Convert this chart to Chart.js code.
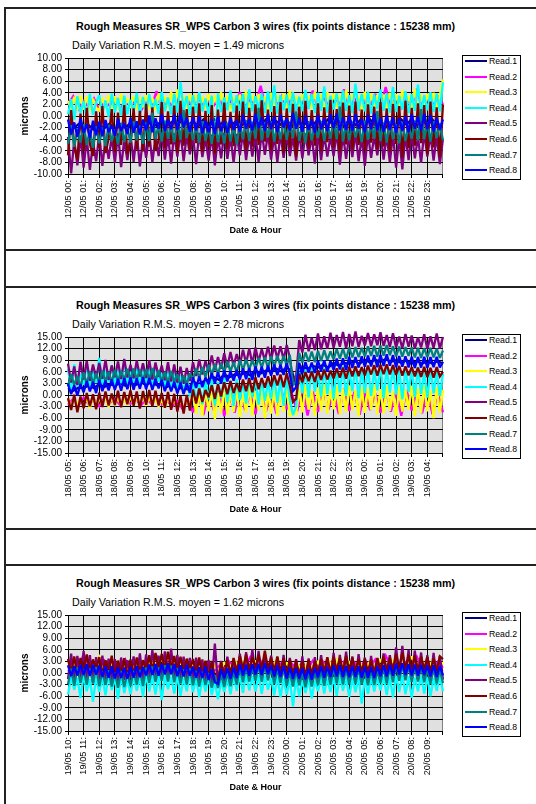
<!DOCTYPE html>
<html><head><meta charset="utf-8">
<script src="https://cdn.jsdelivr.net/npm/chart.js@4.4.1/dist/chart.umd.min.js"></script>
<style>
html,body{margin:0;padding:0;background:#fff;width:536px;height:804px;overflow:hidden;font-family:"Liberation Sans",Arial,sans-serif;color:#000;}
.hl{position:absolute;left:4px;width:540px;height:0;border-top:2px solid #222;}
.vl{position:absolute;left:4px;top:8px;width:0;height:800px;border-left:2px solid #222;}
.ttl{position:absolute;left:0;width:531px;text-align:center;font-weight:bold;font-size:10.7px;line-height:12px;white-space:nowrap;}
.sub{position:absolute;left:72px;font-size:10.7px;line-height:12px;white-space:nowrap;}
.lg{position:absolute;left:462px;width:57px;border:1px solid #000;background:#fff;}
.it{position:absolute;left:0;width:57px;height:12px;}
.it i{position:absolute;left:2px;top:5px;width:22px;height:2px;}
.it span{position:absolute;left:26px;top:0;font-size:8.7px;line-height:12px;}
canvas{position:absolute;left:6px;}
</style>
</head><body>
<div class="vl"></div>
<script>
// ---------- text / tick labels ----------
const chartTitle = 'Rough Measures SR_WPS Carbon 3 wires (fix points distance : 15238 mm)';
const subtitles = [
  'Daily Variation R.M.S. moyen = 1.49 microns',
  'Daily Variation R.M.S. moyen = 2.78 microns',
  'Daily Variation R.M.S. moyen = 1.62 microns'
];
const seriesNames = ['Read.1','Read.2','Read.3','Read.4','Read.5','Read.6','Read.7','Read.8'];
const seriesColors = ['#000080','#ff00ff','#ffff00','#00ffff','#800080','#800000','#008080','#0000ff'];
const yAxisTitle = 'microns';
const xAxisTitle = 'Date & Hour';

const hours1 = ['12/05 00:','12/05 01:','12/05 02:','12/05 03:','12/05 04:','12/05 05:','12/05 06:','12/05 07:','12/05 08:','12/05 09:','12/05 10:','12/05 11:','12/05 12:','12/05 13:','12/05 14:','12/05 15:','12/05 16:','12/05 17:','12/05 18:','12/05 19:','12/05 20:','12/05 21:','12/05 22:','12/05 23:'];
const hours2 = ['18/05 05:','18/05 06:','18/05 07:','18/05 08:','18/05 09:','18/05 10:','18/05 11:','18/05 12:','18/05 13:','18/05 14:','18/05 15:','18/05 16:','18/05 17:','18/05 18:','18/05 19:','18/05 20:','18/05 21:','18/05 22:','18/05 23:','19/05 00:','19/05 01:','19/05 02:','19/05 03:','19/05 04:'];
const hours3 = ['19/05 10:','19/05 11:','19/05 12:','19/05 13:','19/05 14:','19/05 15:','19/05 16:','19/05 17:','19/05 18:','19/05 19:','19/05 20:','19/05 21:','19/05 22:','19/05 23:','20/05 00:','20/05 01:','20/05 02:','20/05 03:','20/05 04:','20/05 05:','20/05 06:','20/05 07:','20/05 08:','20/05 09:'];

// ---------- chart 1 values (microns) ----------
const c1_read1 = [-1.8,-2.2,-1.4,-2.0,-1.6,-2.4,-1.5,-2.1,-1.3,-2.3,-1.7,-2.0,-1.2,-1.9,-1.0,-1.8,-0.9,-1.7,-0.8,-1.6,-1.0,-1.5,-0.7,-1.6,-0.9,-1.8,-0.6,-1.5,-0.5,-1.7,-0.8,-1.9,-1.1,-2.0,-1.0,-1.9,-0.8,-1.6,-0.6,-1.7,-0.9,-1.6,-0.7,-1.8,-0.6,-1.7,-1.0,-1.6,-0.6,-1.5,-0.5,-1.8,-0.8,-1.9,-0.6,-1.7,-0.8,-1.7,-0.6,-1.6,-0.9,-2.0,-1.0,-1.8,-0.6,-1.5,-0.5,-1.7,-0.7,-1.6,-0.6,-1.8,-1.2];
const c1_read2 = [2.0,3.4,1.2,2.6,1.5,3.0,1.0,2.4,1.8,3.2,1.1,2.7,1.6,3.1,0.9,2.5,1.4,4.3,1.2,2.8,1.7,3.3,1.0,2.9,1.5,3.6,1.3,2.6,1.8,3.2,1.1,2.7,1.6,4.1,1.4,3.0,1.9,5.2,1.2,2.8,1.5,3.4,1.7,3.1,1.3,2.9,1.6,4.4,1.1,3.2,1.8,3.5,1.4,4.6,1.5,3.0,1.2,2.7,1.9,3.8,1.3,5.0,1.6,3.3,1.4,3.1,1.7,4.7,1.2,3.0,1.5,3.4,2.0];
const c1_read3 = [2.6,1.2,3.3,1.0,3.5,1.1,3.4,0.9,3.0,1.4,1.0,3.2,1.3,3.6,0.8,3.4,1.2,3.8,1.0,3.1,1.4,3.5,1.1,3.3,1.5,3.6,1.2,3.1,1.0,3.9,1.1,3.4,1.3,4.2,1.0,4.6,1.4,3.5,1.2,3.8,1.3,3.7,1.0,3.4,1.2,3.9,1.1,3.6,1.4,4.1,1.2,3.5,1.0,3.3,1.4,3.7,1.3,4.3,1.1,3.6,1.5,3.8,1.2,3.4,1.0,4.0,1.2,3.6,1.4,3.9,1.1,4.4,1.3,3.5,1.6,3.8,1.0,3.5,1.3,4.2,1.2,3.7,1.0,4.1,1.3,3.9,1.4,3.6,1.1,4.5,1.3,3.8,1.2,3.5,1.0,4.2,1.1,3.9,1.3,3.6,1.2,3.7,1.4,4.0,1.1,3.8,1.2,4.4,1.0,3.5,1.3,4.6,1.1,3.7,1.4,3.9,1.2,4.0,1.3,3.6,6.3];
const c1_read4 = [0.3,2.9,-0.6,3.4,0.5,2.6,-0.3,3.8,0.2,2.4,3.6,0.4,2.7,-0.2,3.9,0.6,3.1,0.1,3.5,0.3,2.8,0.7,4.0,0.2,3.3,0.5,3.7,0.9,2.9,0.4,4.2,0.8,3.2,0.3,3.8,0.6,5.9,0.9,3.4,0.2,3.6,0.5,4.1,0.8,3.0,0.4,3.5,-6.0,3.9,0.7,3.2,1.0,4.4,0.6,3.6,0.9,3.8,0.3,4.6,0.8,3.4,1.1,3.9,0.5,4.3,0.7,5.3,0.4,3.6,1.0,3.7,0.6,4.1,0.9,3.3,0.8,4.5,1.2,3.8,0.5,4.0,0.9,5.1,0.6,3.5,1.1,3.9,0.7,4.4,0.9,3.6,0.5,5.6,1.0,3.8,0.8,4.2,0.4,3.7,1.2,4.6,0.9,3.9,0.6,5.0,0.7,3.5,1.1,4.3,0.5,3.8,0.9,5.4,0.6,3.6,1.0,4.1,0.7,3.9,0.8,5.8];
const c1_read5 = [-3.6,-9.9,-4.2,-8.5,-3.4,-8.9,-3.8,-9.3,-4.5,-7.8,-3.2,-8.6,-4.0,-7.4,-3.5,-8.1,-3.0,-8.8,-4.1,-7.6,-3.3,-7.9,-2.9,-8.7,-3.7,-7.2,-3.1,-8.0,-3.6,-6.9,-2.8,-7.5,-3.4,-8.2,-3.0,-7.0,-2.7,-7.8,-3.3,-6.6,-3.5,-8.3,-2.9,-7.1,-3.8,-7.7,-3.2,-8.5,-3.6,-7.3,-2.9,-7.4,-3.5,-8.1,-3.1,-6.8,-2.8,-7.6,-3.2,-7.0,-3.4,-7.9,-2.7,-6.7,-3.0,-7.5,-3.3,-8.0,-2.9,-7.2,-3.1,-6.9,-3.6,-7.7,-2.8,-7.3,-3.0,-6.8,-3.4,-8.2,-2.9,-7.6,-3.2,-7.0,-3.5,-6.9,-2.7,-8.4,-3.1,-7.4,-3.3,-7.1,-2.8,-7.8,-3.6,-8.6,-3.0,-7.2,-3.4,-6.8,-2.9,-7.5,-3.3,-8.0,-3.1,-8.9,-3.5,-9.2,-3.2,-7.6,-3.0,-7.3,-3.6,-8.1,-2.8,-7.0,-3.2,-7.7,-3.4,-8.3,-3.9];
const c1_read6 = [-6.8,1.0,-5.2,-7.6,0.4,-6.0,1.4,-4.8,-6.9,0.8,-5.5,1.7,-6.4,-3.9,1.2,-6.2,0.6,-5.0,1.9,-6.6,-4.6,1.3,-5.8,0.9,-6.1,2.1,-5.3,1.5,-6.0,-4.2,2.4,-5.6,0.8,-4.9,1.8,-6.3,2.6,-5.1,1.2,-5.8,1.6,-4.7,2.2,-6.2,0.9,-5.4,1.9,-6.5,1.1,-4.9,2.3,-5.7,0.7,-5.2,1.8,-4.6,2.5,-6.0,1.4,-5.3,2.0,-5.0,2.7,-4.4,1.1,-5.9,1.7,-4.8,2.4,-6.4,1.3,-5.5,2.1,-7.0,1.6,-4.7,2.6,-5.6,1.0,-5.1,2.2,-6.1,1.5,-4.5,2.8,-5.4,1.2,-6.3,2.3,-4.9,1.8,-5.8,2.5,-5.0,1.1,-6.0,2.0,-4.6,1.6,-5.7,2.4,-5.3,1.3,-6.2,2.1,-4.8,1.7,-7.2,2.6,-5.5,1.4,-5.1,2.2,-4.7,1.9,-6.6,2.5,-5.4,1.5,-7.1,2.0];
const c1_read7 = [-4.8,-1.6,-5.3,-2.2,-4.6,-1.4,-5.0,-2.5,-5.5,-1.8,-4.7,-2.0,-5.2,-1.5,-4.4,-2.3,-4.9,-1.2,-4.5,-2.0,-4.6,-0.9,-4.2,-1.7,-4.8,-1.1,-4.3,0.6,-4.0,-1.4,-4.4,-0.8,-3.9,-1.6,-4.5,-1.0,-4.1,1.0,-3.8,-1.3,-4.2,-1.5,-4.6,-0.9,-4.3,-1.8,-4.8,-1.1,-4.5,-2.0,-4.7,-1.2,-4.4,-1.7,-4.9,-1.3,-4.0,-0.7,-4.3,-1.0,-3.9,1.4,-4.2,-1.1,-3.7,-0.9,-4.4,-1.4,-4.0,-0.8,-4.1,-1.2,-3.8,0.8,-4.3,-1.5,-4.6,-1.0,-4.2,-1.6,-3.8,-0.9,-4.3,-1.3,-3.9,-0.7,-4.0,1.6,-4.4,-1.2,-4.2,-1.0,-3.7,-1.5,-4.5,-0.8,-4.1,-1.3,-3.9,0.9,-4.3,-1.1,-4.6,-0.9,-4.0,-1.4,-4.7,-1.0,-4.3,-1.7,-3.9,-0.8,-4.2,1.2,-4.0,-1.1,-4.4,-0.9,-3.8,-1.3,-4.2];
const c1_read8 = [-0.6,-3.2,-1.1,-3.6,-0.4,-2.9,-1.4,-3.8,-0.8,-3.3,-1.0,-3.5,-0.7,-2.8,-1.6,-3.4,-0.5,-2.6,-1.2,-3.1,-0.3,-2.9,-0.9,-3.2,-0.6,-2.5,0.1,-2.8,-0.4,-2.2,0.3,-2.6,-0.6,-2.3,0.2,-2.4,0.4,-1.9,-0.3,-2.7,-0.2,-2.5,0.0,-3.0,-0.8,-2.8,-0.5,-3.1,-0.1,-2.6,-0.9,-2.9,-0.3,-2.4,-0.7,-2.7,0.2,-2.2,-0.5,-2.5,0.4,-2.1,-0.2,-2.6,0.3,-2.3,-0.1,-2.8,0.2,-2.0,-0.4,-2.5,0.5,-2.2,-0.3,-2.7,0.1,-2.4,-0.6,-2.9,0.2,-2.3,-0.4,-2.6,0.3,-2.1,0.4,-2.5,-0.2,-2.4,0.1,-2.6,0.3,-2.2,-0.5,-2.8,0.2,-2.3,0.5,-2.5,-0.3,-2.7,0.1,-2.4,-0.2,-2.9,-0.4,-2.6,0.0,-2.8,0.3,-2.2,-0.1,-2.5,0.4,-2.3,0.2,-2.7,-0.3,-2.4,-0.6];

// ---------- chart 2 values ----------
const c2_read1 = [1.8,1.1,1.9,1.8,2.5,1.8,2.8,2.1,2.8,2.4,3.1,2.4,3.3,2.6,3.3,2.6,3.3,2.6,2.8,2.1,2.8,1.4,2.1,1.4,3.5,2.8,3.5,3.9,4.6,3.9,5.3,4.6,5.3,5.1,5.8,5.1,6.3,5.6,6.3,6.1,6.8,6.1,7.1,6.1,1.8,7.3,6.8,7.5,7.1,7.8,7.1,8.3,7.6,8.3,8.1,8.8,8.1,9.1,8.4,9.1,8.6,9.3,8.6,9.0,8.3,9.0,8.1,8.8,8.1,8.8,8.1,8.8,8.1];
const c2_read2 = [-2.5,-1.0,-2.8,-0.7,-2.4,-1.2,-2.9,-0.6,-2.1,-1.0,-2.6,-0.8,-2.3,-0.9,-2.7,-1.1,-2.2,-0.7,-2.5,-1.3,-3.0,-1.5,-3.6,-1.2,-4.5,0.5,-5.2,0.8,-4.0,1.0,-5.5,0.2,-4.6,1.2,-3.9,0.4,-5.0,1.5,-4.3,0.6,-4.8,1.1,-3.7,0.3,-4.2,1.8,-5.3,0.9,-4.4,1.4,-3.8,0.7,-4.9,1.6,-4.1,0.8,-5.1,1.2,-3.9,0.5,-4.6,1.7,-4.3,0.9,-5.4,1.3,-4.0,0.6,-4.7,1.0,-5.0,0.4,-4.5];
const c2_read3 = [-0.9,-3.2,-0.4,-2.7,-1.1,-2.9,-0.6,-3.4,-0.3,-2.5,-0.8,-2.8,-0.2,-3.1,-0.7,-2.4,-0.5,-2.9,-0.9,-2.6,-0.3,-2.7,-0.6,-2.2,-0.1,-2.8,-0.4,-2.5,-0.8,-3.0,-1.0,-3.3,-0.7,-2.9,-1.2,-3.5,-1.1,-3.8,-0.9,-3.3,1.6,-4.9,0.8,-5.5,2.0,-4.2,1.3,-6.2,0.6,-4.7,2.2,-5.1,1.0,-4.4,1.8,-5.8,0.4,-4.6,2.4,-5.3,1.1,-4.0,2.0,-6.0,0.7,-4.8,1.7,-5.4,0.9,-4.3,2.3,-5.6,-4.1,-5.0,1.5,-4.5,2.6,-3.8,1.2,-5.3,2.0,-4.2,2.8,-4.9,1.4,-3.7,2.2,-5.1,1.6,-4.4,2.5,-4.0,1.3,-5.6,2.1,-4.6,1.8,-3.9,2.7,-5.0,1.5,-4.8,2.3,-4.1,1.0,-5.4,2.1,-4.3,1.4,-3.8,2.4,-5.5,1.7,-4.7,2.6,-4.2,1.2,-6.0,2.0,-4.6,1.3];
const c2_read4 = [6.8,1.4,7.9,2.2,5.5,2.6,8.4,2.0,6.3,3.1,9.6,2.8,6.6,3.3,7.7,2.4,7.2,3.0,8.8,2.7,6.1,3.2,7.5,2.5,8.0,3.0,6.9,2.3,7.8,3.4,5.8,2.1,7.1,1.8,6.4,1.2,5.2,0.6,4.6,-0.4,3.5,-1.6,2.8,-2.4,3.9,-1.1,4.2,-2.7,3.3,-0.8,4.5,-1.9,3.8,-2.9,4.1,-1.3,3.6,-2.2,4.7,-0.6,3.9,-2.5,4.3,-1.5,3.4,-1.0,4.8,-2.0,4.0,-2.8,4.4,-1.2,-5.2,-3.0,6.0,0.4,6.6,-0.6,7.2,0.9,6.1,-0.4,7.0,0.2,6.5,-1.0,6.8,0.7,7.4,-0.3,6.3,1.0,7.5,-0.8,6.7,0.5,7.1,-0.2,6.4,1.2,7.6,-0.9,6.9,0.6,7.2,0.1,6.2,-1.1,7.0,0.8,6.6,-0.5,7.3,0.3,5.9,-0.7,6.8,0.4,6.1,-0.2,5.5];
const c2_read5 = [8.1,3.2,7.4,2.6,8.6,4.0,8.8,3.7,7.9,4.4,8.3,4.2,9.1,3.9,7.6,4.6,8.7,4.1,9.3,4.5,7.8,4.3,8.9,4.8,8.2,4.4,9.0,4.0,8.4,4.7,7.6,3.8,8.5,3.5,7.9,3.2,7.3,3.0,7.0,3.6,8.5,4.9,9.2,5.3,8.8,6.1,10.2,6.4,9.8,6.8,10.8,7.2,11.1,7.5,10.6,7.9,11.7,8.2,12.0,8.0,12.3,8.6,11.9,8.9,12.5,9.1,12.8,9.4,12.6,9.2,12.9,9.6,3.5,4.8,14.2,11.0,15.6,11.3,14.8,11.6,15.9,11.8,15.2,12.0,16.1,12.2,15.5,12.5,16.3,12.1,15.8,12.6,16.4,12.4,15.3,12.8,16.0,12.6,15.7,12.9,16.2,12.7,15.5,12.4,16.0,12.3,15.1,12.1,15.8,12.5,15.4,12.0,14.9,12.3,15.7,11.9,15.2,12.2,15.9,12.0,15.0];
const c2_read6 = [-0.8,-3.9,0.1,-4.5,-0.4,-3.4,0.5,-2.9,0.2,-3.7,0.6,-3.1,0.9,-2.7,0.4,-2.6,1.1,-3.2,0.8,-2.4,1.2,-2.8,0.9,-3.5,1.0,-2.5,1.3,-3.0,1.1,-2.7,0.5,-3.3,0.8,-3.8,0.3,-4.3,-0.2,-4.8,0.0,-4.0,1.4,-2.2,1.7,-1.8,1.3,-0.6,2.5,-1.0,2.8,-0.4,3.3,0.2,3.6,0.5,3.1,0.8,4.0,1.0,4.3,0.7,4.6,1.5,4.4,1.9,4.8,2.2,5.1,2.5,5.3,2.0,5.6,2.4,-1.8,-1.0,5.5,3.3,5.9,3.6,6.1,3.4,6.4,3.9,6.6,4.0,6.3,4.3,6.9,4.5,7.1,4.2,7.3,4.8,7.4,4.9,7.2,5.1,7.6,5.3,7.7,5.0,7.8,5.4,7.9,5.3,7.7,5.2,7.5,5.0,7.4,5.1,7.2,4.8,7.1,4.7,7.3,4.6,7.0,4.5,7.2,4.8,6.0];
const c2_read7 = [2.2,5.4,2.6,4.9,2.0,5.8,2.9,6.1,3.0,5.6,3.2,6.3,3.5,6.0,3.3,6.5,3.6,6.2,3.9,6.8,3.8,6.9,4.0,6.6,3.7,6.7,3.9,7.0,3.6,6.4,3.3,6.0,3.0,6.2,3.4,5.4,2.5,5.1,2.7,5.6,4.1,6.9,4.4,7.2,4.6,7.8,5.2,8.0,5.4,8.2,5.9,8.7,6.1,8.5,5.8,9.1,6.4,9.3,6.6,9.0,6.9,9.6,7.1,9.8,7.0,10.0,7.4,10.2,7.5,10.1,7.6,10.4,2.5,3.5,10.8,8.4,11.0,8.6,11.2,8.5,11.4,8.8,11.6,9.0,11.3,9.2,11.9,9.4,12.0,9.3,12.3,9.7,12.4,9.8,12.2,10.0,12.6,10.1,12.7,9.9,12.8,10.2,12.9,10.3,12.6,10.0,12.5,9.9,12.4,10.1,12.3,9.7,12.2,9.6,12.1,9.8,12.2,9.7,12.0,9.6,11.5];
const c2_read8 = [2.9,0.2,2.5,-0.1,2.8,0.7,3.6,0.9,3.4,0.5,3.9,1.0,3.7,1.2,4.0,1.3,4.2,1.1,4.4,1.5,4.5,1.4,4.3,1.6,4.6,1.5,4.4,1.3,4.2,1.7,3.9,1.0,3.6,0.9,3.4,0.4,3.2,0.2,3.0,0.6,4.6,1.8,4.8,2.0,4.5,2.8,5.7,3.0,5.9,2.9,6.4,3.5,6.2,3.7,6.5,4.0,6.9,4.1,7.0,3.9,7.4,4.6,7.3,4.5,7.6,5.0,7.9,5.1,7.8,5.2,8.2,5.3,1.0,2.0,8.3,5.6,8.5,5.8,8.4,5.7,8.9,6.1,9.0,6.0,8.8,6.5,9.4,6.6,9.5,6.4,9.9,7.0,9.8,7.1,10.0,7.3,10.2,7.4,10.3,7.2,10.4,7.5,10.5,7.6,10.3,7.2,10.1,7.3,10.0,7.1,9.9,7.0,9.8,7.1,9.9,7.0,9.8,7.2,9.9,7.1,8.6];

// ---------- chart 3 values ----------
const c3_read1 = [0.9,0.3,1.0,0.5,1.2,0.4,0.8,0.0,0.7,-0.3,0.4,-0.4,0.6,-0.2,0.6,0.5,1.2,0.4,1.4,0.6,1.4,0.3,1.0,0.2,0.6,-0.2,0.5,-0.6,0.1,-1.3,0.3,-0.4,0.4,0.5,1.2,0.4,1.4,0.6,1.3,0.2,0.9,0.1,0.4,-0.4,0.3,-0.5,0.2,-0.6,0.7,0.0,0.6,0.2,0.9,0.1,0.8,0.0,0.7,-0.1,0.6,-0.2,1.0,0.2,0.9,0.7,1.4,0.6,1.2,0.4,1.1,0.2,0.9,0.1,0.8];
const c3_read2 = [1.4,3.0,1.1,4.6,1.3,2.7,1.0,3.2,1.5,2.9,1.2,3.5,0.9,2.6,1.4,3.1,1.6,4.4,1.3,2.8,1.1,3.3,0.8,2.5,1.0,3.0,0.6,2.4,0.4,1.8,1.1,2.9,1.5,3.4,1.7,4.1,1.4,3.1,1.2,2.7,0.9,2.6,0.7,2.4,0.8,2.8,1.0,3.2,1.3,2.9,1.1,3.6,1.2,3.0,1.0,2.7,0.9,3.3,1.3,3.5,1.5,4.5,1.7,3.3,1.4,3.0,1.2,4.2,1.1,3.2,1.0,2.9,1.3];
const c3_read3 = [2.6,1.2,3.4,1.0,2.8,1.5,4.2,0.9,2.5,1.3,3.0,0.8,2.7,1.1,3.3,1.4,2.9,1.6,3.6,1.2,2.8,1.0,3.1,0.7,2.4,0.9,2.9,0.5,2.2,0.3,2.6,1.0,3.2,1.4,3.5,1.6,3.0,1.3,2.8,1.1,3.3,0.8,2.5,0.6,2.3,0.7,2.6,0.9,2.9,1.2,3.4,1.0,4.0,1.1,2.8,0.9,2.6,0.8,3.0,1.2,3.3,1.4,3.7,1.6,3.2,1.3,4.3,1.1,2.9,1.0,3.1,0.9,2.8];
const c3_read4 = [-5.6,-0.7,-4.3,-1.3,-6.4,-0.5,-4.7,-1.6,-7.4,-0.9,-4.9,-1.1,-5.8,-0.6,-4.4,-1.4,-6.7,-0.8,-5.2,-1.7,-5.5,-0.9,-4.6,-1.2,-6.1,-0.4,-4.8,-0.7,-5.6,-0.3,-7.0,-0.6,-4.2,-1.0,-5.3,-0.8,-5.9,-1.3,-4.7,-0.5,-5.0,-1.2,-6.2,-1.5,-4.8,-1.1,-5.7,-2.3,-6.8,-2.0,-4.9,-1.4,-5.5,-0.9,-4.6,-0.6,-5.1,-0.4,-4.5,-0.8,-4.8,-0.5,-5.4,-0.7,-4.3,-1.2,-5.8,-0.9,-6.3,-1.4,-5.6,-1.6,-8.6,-1.3,-6.0,-1.8,-5.2,-1.5,-6.6,-2.0,-4.7,-1.1,-5.3,-1.4,-4.9,-1.0,-5.9,-0.8,-4.6,-1.2,-6.2,-1.3,-5.0,-0.9,-7.9,-1.5,-5.4,-1.1,-4.8,-1.3,-4.5,-0.8,-5.7,-1.0,-6.3,-0.7,-4.9,-0.5,-5.5,-0.9,-6.4,-1.2,-4.7,-0.9,-5.3,-1.0,-6.0,-1.3,-4.6,-0.8,-4.8];
const c3_read5 = [-1.6,5.0,-2.3,4.4,-1.1,5.7,-1.9,4.6,-2.5,4.1,-2.2,4.5,-1.5,3.7,-2.7,3.6,-2.6,4.0,-1.8,3.3,-1.4,4.3,-2.1,5.1,-1.7,4.8,-1.0,5.9,-0.7,4.5,-0.9,5.6,-1.2,6.3,-1.5,4.7,-1.8,4.2,-2.2,3.9,-2.4,4.0,-2.0,3.5,-2.6,3.4,-2.9,7.6,-3.3,3.1,-2.5,4.2,-2.0,3.8,-1.6,5.0,-1.0,5.4,-1.3,6.1,-0.8,5.7,-1.1,4.9,-0.9,4.5,-1.7,4.1,-2.0,4.7,-2.3,3.9,-2.6,3.6,-2.8,4.3,-2.7,3.8,-3.0,4.1,-2.2,4.6,-1.9,3.9,-2.4,5.2,-1.6,4.7,-1.8,5.5,-2.0,4.3,-2.3,4.9,-1.7,4.0,-2.5,4.4,-2.1,3.7,-1.5,5.1,-1.8,4.6,-1.3,6.6,-0.9,7.0,-1.2,6.0,-1.4,5.8,-1.7,5.3,-1.9,4.6,-2.0,5.2,-1.8,4.4,-1.7];
const c3_read6 = [3.6,0.1,4.3,-0.6,3.9,0.7,4.8,0.3,3.5,1.0,4.1,-0.4,3.3,0.2,4.5,-0.9,3.2,-0.3,3.8,-1.1,3.5,-0.5,4.0,0.0,3.3,1.0,4.6,0.6,5.2,1.2,4.9,0.8,5.5,1.1,4.4,0.5,4.2,0.2,3.7,0.9,3.6,-0.4,4.0,-0.7,3.2,-1.0,3.1,-1.5,-1.8,2.8,-0.6,3.4,-0.2,3.9,0.1,4.4,1.0,4.8,0.7,4.2,1.2,4.7,0.9,5.8,1.0,4.0,0.4,4.3,0.2,3.8,-0.5,3.5,-0.3,3.2,-0.6,3.0,-0.8,3.4,-0.4,3.1,0.0,3.7,0.3,4.1,-0.2,4.2,0.6,3.9,0.4,4.5,0.3,4.0,0.5,3.6,0.2,3.7,0.1,3.4,0.0,3.9,0.6,4.4,0.8,4.0,0.5,4.9,1.2,5.3,1.0,4.7,0.8,4.5,0.6,4.2,0.9,4.1,0.4,3.8,0.6,4.3,3.6];
const c3_read7 = [-2.9,1.1,-3.3,1.4,-2.6,0.9,-3.0,1.2,-2.7,1.5,-3.4,0.4,-3.1,0.7,-3.5,0.2,-3.8,0.5,-3.6,0.1,-3.3,0.6,-3.0,0.8,-3.4,1.4,-2.5,1.7,-2.3,1.5,-2.0,2.0,-2.2,1.9,-2.4,1.3,-2.7,1.0,-2.9,1.2,-3.2,0.5,-3.5,0.3,-3.1,0.0,-3.8,-0.5,-3.9,-0.3,-3.6,0.2,-3.4,0.4,-3.0,1.5,-2.4,1.7,-2.2,1.4,-2.0,2.1,-2.3,2.0,-1.9,1.2,-2.8,1.0,-2.6,1.3,-3.3,0.3,-3.5,0.5,-3.2,0.0,-3.7,0.2,-3.5,0.1,-3.1,0.8,-3.3,0.9,-3.0,1.1,-2.7,1.3,-2.9,1.0,-2.9,1.0,-2.8,1.2,-3.0,0.7,-3.2,0.9,-3.1,0.6,-2.5,1.5,-2.7,1.4,-2.4,2.1,-2.0,2.2,-1.9,1.9,-2.3,1.6,-2.2,1.7,-2.4,1.1,-2.8,1.2,-2.7,1.0,-2.6];
const c3_read8 = [2.0,-0.8,1.8,-0.6,2.2,-0.5,2.3,-0.7,2.1,-0.4,1.9,-1.0,1.7,-1.2,1.8,-1.4,1.5,-1.3,1.4,-1.5,1.6,-1.2,1.8,-1.1,1.5,-0.6,2.2,-0.5,2.3,-0.7,2.4,-0.4,2.5,-0.3,2.3,-0.8,2.0,-0.9,2.1,-0.7,1.6,-1.2,1.5,-1.3,1.7,-1.8,1.1,-2.4,-2.8,1.0,-1.4,1.3,-1.5,1.4,-1.3,2.2,-0.6,2.1,-0.7,2.3,-0.4,2.4,-0.5,2.5,-0.3,1.9,-0.9,2.0,-1.0,1.8,-1.4,1.4,-1.5,1.3,-1.4,1.2,-1.6,1.1,-1.7,1.3,-1.1,1.7,-1.2,1.6,-1.0,1.9,-0.9,2.0,-1.0,1.8,-1.1,1.8,-1.0,1.7,-1.2,1.6,-1.2,1.5,-1.3,1.7,-0.8,2.0,-0.9,2.1,-0.7,2.4,-0.4,2.5,-0.5,2.3,-0.6,2.2,-0.7,2.1,-0.5,1.9,-0.9,2.0,-1.0,1.8,-0.6];

// y-axis ranges (min, max, step)
const yRange1 = [-10, 10, 2];
const yRange2 = [-15, 15, 3];
const yRange3 = [-15, 15, 3];

const charts = [
  {series:[c1_read1,c1_read2,c1_read3,c1_read4,c1_read5,c1_read6,c1_read7,c1_read8], hours:hours1, y:yRange1, sub:subtitles[0], top:58},
  {series:[c2_read1,c2_read2,c2_read3,c2_read4,c2_read5,c2_read6,c2_read7,c2_read8], hours:hours2, y:yRange2, sub:subtitles[1], top:337},
  {series:[c3_read1,c3_read2,c3_read3,c3_read4,c3_read5,c3_read6,c3_read7,c3_read8], hours:hours3, y:yRange3, sub:subtitles[2], top:615}
];

Chart.defaults.font.family = '"Liberation Sans", Arial, sans-serif';
Chart.defaults.color = '#000';

const plotBg = {
  id:'plotBg',
  beforeDraw(chart){const {ctx, chartArea:a} = chart; ctx.save(); ctx.fillStyle = '#e0e0e0'; ctx.fillRect(a.left, a.top, a.width, a.height); ctx.restore();},
  beforeDatasetsDraw(chart){ chart.ctx.miterLimit = 2.5; }
};

function addDiv(cls, style, html){const d=document.createElement('div'); d.className=cls; Object.assign(d.style, style); if(html!==undefined) d.innerHTML=html; document.body.appendChild(d); return d;}

charts.forEach(cfg => {
  const T = cfg.top;
  addDiv('hl', {top:(T-51)+'px'});
  addDiv('hl', {top:(T+191)+'px'});
  addDiv('ttl', {top:(T-38)+'px'}, chartTitle);
  addDiv('sub', {top:(T-19)+'px'}, cfg.sub);
  const lg = addDiv('lg', {top:(T-3)+'px', height:'123px'});
  seriesNames.forEach((n,k) => {
    const it = document.createElement('div'); it.className='it'; it.style.top = (-1 + k*15.6)+'px';
    it.innerHTML = '<i style="background:'+seriesColors[k]+'"></i><span>'+n+'</span>';
    lg.appendChild(it);
  });

  const cv = document.createElement('canvas');
  cv.width = 450; cv.height = 238;
  cv.style.top = (T-49)+'px';
  document.body.appendChild(cv);

  const datasets = cfg.series.map((arr,k) => ({
    label: seriesNames[k],
    data: arr.map((v,i) => ({x: i*24/(arr.length-1), y: v})),
    borderColor: seriesColors[k],
    backgroundColor: seriesColors[k],
    borderWidth: 2.3,
    borderJoinStyle: 'miter',
    pointRadius: 0,
    tension: 0,
    clip: false,
    order: 7-k
  }));

  new Chart(cv, {
    type: 'line',
    data: {datasets},
    plugins: [plotBg],
    options: {
      responsive: false, animation: false, devicePixelRatio: 1,
      layout: {padding: {top:49, right:11, left:0, bottom:0}},
      plugins: {legend:{display:false}, tooltip:{enabled:false}, title:{display:false}},
      scales: {
        x: {
          type:'linear', min:0, max:24,
          afterFit: s => { s.height = 73; },
          ticks: {stepSize:1, autoSkip:false, maxRotation:90, minRotation:90, padding:2,
                  font:{size:9.2}, color:'#000',
                  callback: v => Number.isInteger(v) && v < cfg.hours.length ? cfg.hours[v] : ''},
          grid: {color: c => (c.tick && c.tick.value === 24) ? '#808080' : '#000', lineWidth:1, tickLength:4, tickColor:'#000'},
          border: {display:true, color:'#000', width:1},
          title: {display:true, text:xAxisTitle, font:{size:9, weight:'bold'}, color:'#000', padding:{top:0,bottom:11}}
        },
        y: {
          type:'linear', min:cfg.y[0], max:cfg.y[1],
          afterFit: s => { s.width = 62; },
          ticks: {stepSize:cfg.y[2], autoSkip:false, padding:3, font:{size:10}, color:'#000', callback: v => v.toFixed(2)},
          grid: {color:'#000', lineWidth:1, tickLength:3, tickColor:'#000'},
          border: {display:true, color:'#000', width:1},
          title: {display:true, text:yAxisTitle, font:{size:10, weight:'bold'}, color:'#000', padding:{top:13,bottom:0}}
        }
      }
    }
  });
});
</script>
</body></html>
